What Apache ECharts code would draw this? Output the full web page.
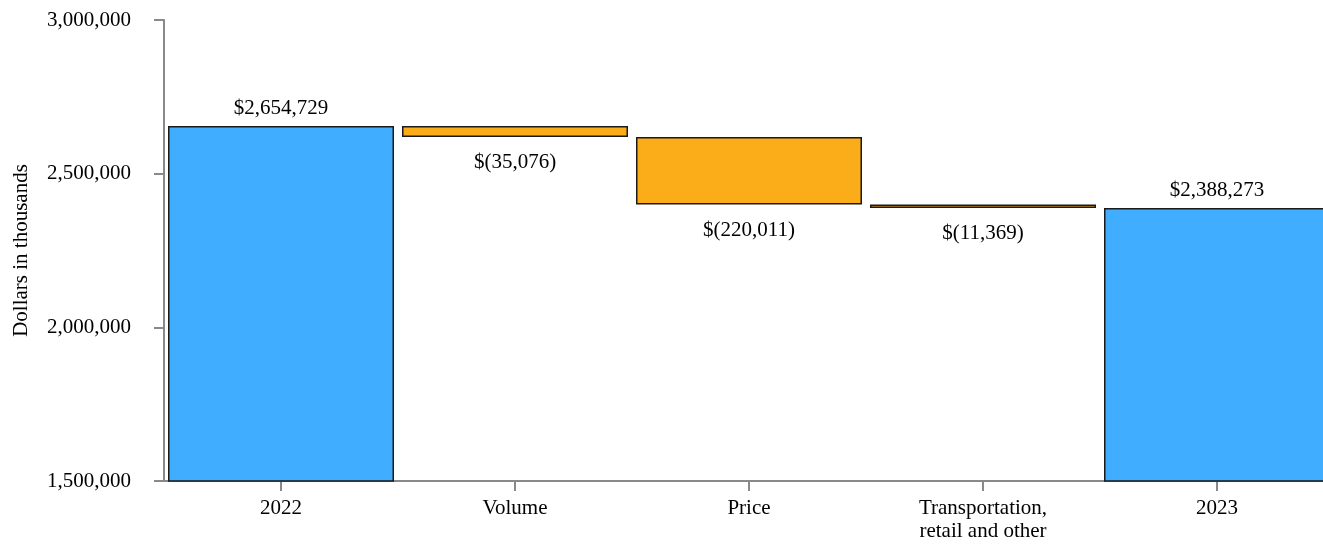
<!DOCTYPE html>
<html>
<head>
<meta charset="utf-8">
<script src="https://cdn.jsdelivr.net/npm/echarts@6/dist/echarts.min.js"></script>
<style>html,body{margin:0;padding:0;background:#fff;overflow:hidden;width:1323px;height:545px;}#c{width:1334px;height:545px;}</style>
</head>
<body>
<div id="c"></div>
<script>
var categories = ['2022', 'Volume', 'Price', 'Transportation,\nretail and other', '2023'];
var values = [2654729, -35076, -220011, -11369, 2388273];
var isTotal = [true, false, false, false, true];
var yTicks = [1500000, 2000000, 2500000, 3000000];

var BLUE = '#40ADFE';
var ORANGE = '#FAAC19';
var FONT = 'Liberation Serif';

var baseData = [], barData = [];
var running = 0;
for (var i = 0; i < values.length; i++) {
  var v = values[i];
  var txt = v < 0 ? '$(' + Math.abs(v).toLocaleString('en-US') + ')' : '$' + v.toLocaleString('en-US');
  if (isTotal[i]) {
    running = v;
    baseData.push(0);
    barData.push({
      value: v,
      itemStyle: { color: BLUE },
      label: { position: 'top', distance: 7, formatter: txt }
    });
  } else {
    var next = running + v;
    baseData.push(Math.min(running, next));
    barData.push({
      value: Math.abs(v),
      itemStyle: { color: ORANGE },
      label: { position: 'bottom', distance: 15, formatter: txt }
    });
    running = next;
  }
}

var chart = echarts.init(document.getElementById('c'));
chart.setOption({
  animation: false,
  backgroundColor: '#fff',
  grid: { left: 164, top: 20, right: 0, height: 461, containLabel: false },
  xAxis: {
    type: 'category',
    data: categories,
    axisLine: { show: true, lineStyle: { color: '#898989', width: 2 } },
    axisTick: { show: true, alignWithLabel: true, length: 10, lineStyle: { color: '#898989', width: 2 } },
    axisLabel: { color: '#000', fontFamily: FONT, fontSize: 21, margin: 16, lineHeight: 23, interval: 0 },
    splitLine: { show: false }
  },
  yAxis: {
    type: 'value',
    min: yTicks[0],
    max: yTicks[yTicks.length - 1],
    interval: 500000,
    name: 'Dollars in thousands',
    nameLocation: 'middle',
    nameGap: 132,
    nameRotate: 90,
    nameTextStyle: { color: '#000', fontFamily: FONT, fontSize: 21 },
    axisLine: { show: true, lineStyle: { color: '#898989', width: 2 } },
    axisTick: { show: true, inside: false, length: 10, lineStyle: { color: '#898989', width: 2 } },
    axisLabel: {
      color: '#000', fontFamily: FONT, fontSize: 21, margin: 33,
      formatter: function (v) { return v.toLocaleString('en-US'); }
    },
    splitLine: { show: false }
  },
  series: [
    {
      type: 'bar',
      stack: 'wf',
      data: baseData,
      barWidth: 226,
      itemStyle: { color: 'transparent', borderWidth: 0 },
      emphasis: { disabled: true },
      silent: true
    },
    {
      type: 'bar',
      stack: 'wf',
      data: barData,
      barWidth: 226,
      itemStyle: { borderColor: '#1a1a1a', borderWidth: 1.5 },
      label: { show: true, color: '#000', fontFamily: FONT, fontSize: 21 }
    }
  ]
});
</script>
</body>
</html>
